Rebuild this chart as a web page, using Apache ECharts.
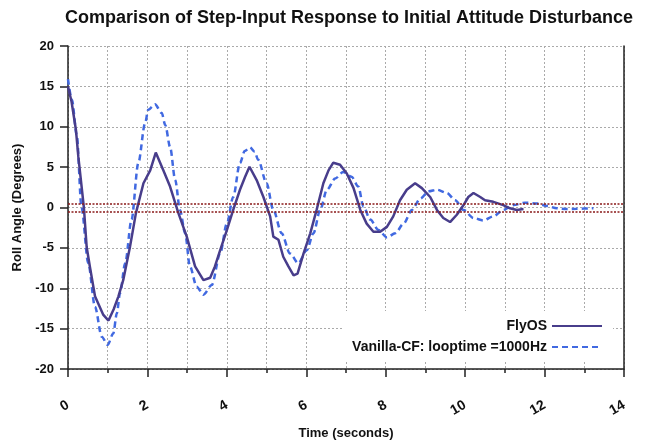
<!DOCTYPE html>
<html>
<head>
<meta charset="utf-8">
<script src="https://cdn.jsdelivr.net/npm/echarts@6/dist/echarts.min.js"></script>
<style>
  html, body { margin: 0; padding: 0; background: #fff; }
  #chart { width: 651px; height: 445px; }
</style>
</head>
<body>
<div id="chart"></div>
<script>
// FlyOS 曲线 (时间, 角度)
var flyosTime = [0, 0.09, 0.2, 0.26, 0.4, 0.47, 0.55, 0.68, 0.89, 1.02, 1.15, 1.27, 1.39, 1.56, 1.71, 1.90, 2.07, 2.21, 2.40, 2.57, 2.78, 2.99, 3.20, 3.41, 3.58, 3.70, 3.83, 4.0, 4.16, 4.33, 4.46, 4.57, 4.75, 4.92, 5.09, 5.17, 5.30, 5.42, 5.55, 5.68, 5.78, 5.93, 6.10, 6.26, 6.43, 6.56, 6.68, 6.85, 7.02, 7.19, 7.36, 7.52, 7.69, 7.86, 8.03, 8.19, 8.36, 8.53, 8.74, 8.91, 9.12, 9.29, 9.45, 9.62, 9.79, 9.96, 10.08, 10.21, 10.38, 10.5, 10.71, 10.96, 11.13, 11.3, 11.47];
var flyosAngle = [15, 13.1, 9.6, 6.3, 0, -4.9, -7.3, -11.0, -13.3, -14.0, -12.6, -11.0, -9.0, -4.9, -0.7, 3.0, 4.6, 6.8, 4.6, 2.6, -0.7, -3.6, -7.3, -9.0, -8.7, -7.3, -5.3, -2.8, -0.3, 2.2, 3.8, 5.05, 3.4, 1.3, -1.1, -3.6, -4.0, -6.1, -7.3, -8.4, -8.2, -5.7, -3.2, -0.3, 3.0, 4.6, 5.55, 5.3, 4.2, 2.4, -0.3, -2.0, -3.0, -3.0, -2.4, -1.1, 0.9, 2.2, 3.0, 2.4, 1.3, -0.3, -1.3, -1.8, -0.9, 0.3, 1.3, 1.8, 1.3, 0.9, 0.7, 0.3, -0.1, -0.3, -0.2];

// Vanilla-CF 曲线
var vanillaTime = [0, 0.1, 0.22, 0.34, 0.51, 0.68, 0.85, 1.0, 1.14, 1.23, 1.31, 1.44, 1.60, 1.77, 1.94, 2.02, 2.19, 2.36, 2.45, 2.57, 2.70, 2.82, 2.95, 3.07, 3.24, 3.41, 3.62, 3.83, 4.0, 4.16, 4.33, 4.45, 4.58, 4.70, 4.79, 5.0, 5.17, 5.38, 5.59, 5.80, 6.01, 6.18, 6.35, 6.52, 6.73, 6.93, 7.14, 7.31, 7.44, 7.61, 7.82, 8.03, 8.24, 8.45, 8.66, 8.87, 9.08, 9.29, 9.54, 9.75, 9.96, 10.21, 10.46, 10.71, 10.96, 11.22, 11.51, 11.81, 12.06, 12.31, 12.56, 12.81, 13.23];
var vanillaAngle = [15.9, 13.3, 9.0, 0, -6.9, -12.3, -16.0, -17.0, -15.6, -13.1, -10.6, -6.9, -1.5, 5.5, 10.4, 12.1, 12.8, 11.7, 10.2, 7.5, 3.4, -0.3, -3.2, -7.3, -9.8, -10.8, -9.6, -5.7, -2.0, 1.3, 5.5, 7.0, 7.45, 6.9, 5.9, 3.0, -0.3, -3.2, -5.7, -6.9, -5.3, -3.2, -0.3, 2.2, 3.6, 4.4, 3.8, 2.6, 0.1, -1.5, -2.8, -3.7, -3.2, -2.0, -0.3, 1.1, 2.0, 2.2, 1.8, 0.9, -0.3, -1.3, -1.6, -1.1, -0.3, 0.3, 0.6, 0.5, 0.2, -0.1, -0.2, -0.15, -0.1];

// 误差带 ±0.5 度
var bandLevels = [0.5, -0.5];

function pairs(xs, ys) {
  return xs.map(function (x, i) { return [x, ys[i]]; });
}

var chart = echarts.init(document.getElementById('chart'));
var font = 'Liberation Sans, Arial, sans-serif';
var option = {
  backgroundColor: '#fff',
  animation: false,
  title: {
    text: 'Comparison of Step-Input Response to Initial Attitude Disturbance',
    left: 60,
    top: 4,
    textStyle: { fontFamily: font, fontSize: 18, fontWeight: 'bold', color: '#111' }
  },
  legend: {
    orient: 'vertical',
    align: 'right',
    right: 38,
    bottom: 85,
    backgroundColor: '#fff',
    padding: [8, 10, 6, 10],
    itemWidth: 50,
    itemHeight: 14,
    itemGap: 7,
    itemStyle: { opacity: 0 },
    textStyle: { fontFamily: font, fontSize: 14, fontWeight: 'bold', color: '#111' },
    data: ['FlyOS', 'Vanilla-CF: looptime =1000Hz']
  },
  grid: { left: 68, right: 27, top: 46, bottom: 76 },
  xAxis: {
    type: 'value',
    min: 0,
    max: 14,
    interval: 2,
    name: 'Time (seconds)',
    nameLocation: 'middle',
    nameGap: 58,
    nameTextStyle: { fontFamily: font, fontSize: 13, fontWeight: 'bold', color: '#111' },
    axisLine: { onZero: false, lineStyle: { color: '#222', width: 1.5 } },
    axisTick: { length: 8, lineStyle: { color: '#222', width: 1.5 } },
    minorTick: { show: true, splitNumber: 2, length: 4, lineStyle: { color: '#222', width: 1.5 } },
    axisLabel: { rotate: 30, margin: 35, fontFamily: font, fontSize: 14, fontWeight: 'bold', color: '#111' },
    splitLine: { show: true, lineStyle: { color: '#aaa', type: [2, 2], width: 1 } },
    minorSplitLine: { show: true, lineStyle: { color: '#aaa', type: [2, 2], width: 1 } }
  },
  yAxis: [{
    type: 'value',
    min: -20,
    max: 20,
    interval: 5,
    name: 'Roll Angle (Degrees)',
    nameLocation: 'middle',
    nameGap: 38,
    nameTextStyle: { fontFamily: font, fontSize: 13, fontWeight: 'bold', color: '#111' },
    axisLine: { show: true, onZero: false, lineStyle: { color: '#222', width: 1.5 } },
    axisTick: { show: true, length: 8, lineStyle: { color: '#222', width: 1.5 } },
    axisLabel: { margin: 14, fontFamily: font, fontSize: 13, fontWeight: 'bold', color: '#111' },
    splitLine: { show: true, lineStyle: { color: '#aaa', type: [2, 2], width: 1 } }
  }, {
    type: 'value',
    position: 'right',
    min: -20,
    max: 20,
    axisLine: { show: true, onZero: false, lineStyle: { color: '#222', width: 1.5 } },
    axisTick: { show: false },
    axisLabel: { show: false },
    splitLine: { show: false }
  }],
  series: [{
    name: 'FlyOS',
    type: 'line',
    symbol: 'none',
    data: pairs(flyosTime, flyosAngle),
    lineStyle: { color: '#483d8b', width: 2.5 },
    itemStyle: { color: '#483d8b' },
    z: 3,
    markLine: {
      silent: true,
      symbol: 'none',
      label: { show: false },
      lineStyle: { color: '#8b1a1a', type: [2, 1.5], width: 1.5 },
      data: bandLevels.map(function (v) { return { yAxis: v }; })
    }
  }, {
    name: 'Vanilla-CF: looptime =1000Hz',
    type: 'line',
    symbol: 'none',
    smooth: 0.3,
    smoothMonotone: 'x',
    data: pairs(vanillaTime, vanillaAngle),
    lineStyle: { color: '#4169e1', width: 2.5, type: [6, 4] },
    itemStyle: { color: '#4169e1' },
    z: 2
  }]
};
chart.setOption(option);
</script>
</body>
</html>
